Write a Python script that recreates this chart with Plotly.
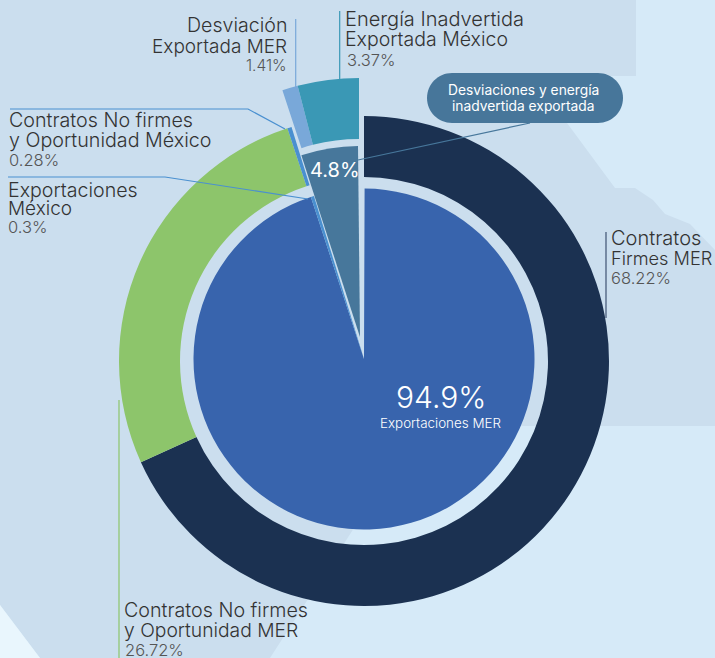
import plotly.graph_objects as go

W, H = 715, 658

# ---- data ----
outer_names = ["Contratos Firmes MER", "Contratos No firmes y Oportunidad MER",
               "Contratos No firmes y Oportunidad México", "Desviación Exportada MER",
               "Energía Inadvertida Exportada México"]
# Percentages as printed on the reference.
outer_values = [68.22, 26.72, 0.28, 1.41, 3.37]
# Arc sizes as measured on the reference for its detached group: the two detached
# slices are not drawn in the proportion their printed labels state (about 1.03 / 4.03
# rather than 1.41 / 3.37). The first three entries are invisible in that trace.
outer_arcs = [68.22, 26.44, 0.28, 1.03, 4.03]
outer_colors = ["#1b3151", "#8dc56b", "#4a90d0", "#79a8d9", "#3a98b5"]

inner_names = ["Exportaciones MER", "Exportaciones México", "Desviaciones y energía inadvertida exportada"]
inner_values = [94.9, 0.3, 4.8]
inner_colors = ["#3864ad", "#4a90d0", "#47779b"]

BG_LIGHT, BG_MAP, BG_PALE = "#d6eaf8", "#cbdeee", "#e9f6fd"
CLEAR = "rgba(0,0,0,0)"


def domain(cx, cy, r):
    return dict(x=[(cx - r) / W, (cx + r) / W], y=[1 - (cy + r) / H, 1 - (cy - r) / H])


def px(x, y):
    return x / W, 1 - y / H


def mask(colors, keep):
    return [c if i in keep else CLEAR for i, c in enumerate(colors)]


def pie(values, names, colors, dom, hole=0, rotation=0):
    return go.Pie(values=values, labels=names, sort=False, direction="clockwise", rotation=rotation,
                  hole=hole, domain=dom, textinfo="none", hoverinfo="label+value",
                  marker=dict(colors=colors, line=dict(width=0)), showlegend=False)


fig = go.Figure()
OUT_R, OUT_HOLE = 245, 184 / 245
fig.add_trace(pie(outer_values, outer_names, mask(outer_colors, {0, 1, 2}), domain(364, 361, OUT_R), OUT_HOLE))
fig.add_trace(pie(outer_arcs, outer_names, mask(outer_colors, {3, 4}), domain(359, 323, OUT_R), OUT_HOLE))
fig.add_trace(pie(inner_values, inner_names, mask(inner_colors, {0, 1}), domain(364, 359, 170.5), rotation=0.2))
fig.add_trace(pie(inner_values, inner_names, mask(inner_colors, {2}), domain(360, 337, 191), rotation=-0.6))


def poly(points, color):
    d = ""
    for i, (x, y) in enumerate(points):
        px_, py_ = px(x, y)
        d += ("M" if i == 0 else "L") + f"{px_:.5f},{py_:.5f} "
    return dict(type="path", path=d + "Z", xref="paper", yref="paper",
                fillcolor=color, line=dict(width=0), layer="below")


def line(points, color, width=1.2):
    d = ""
    for i, (x, y) in enumerate(points):
        px_, py_ = px(x, y)
        d += ("M" if i == 0 else "L") + f"{px_:.5f},{py_:.5f} "
    return dict(type="path", path=d, xref="paper", yref="paper",
                line=dict(color=color, width=width), layer="above")


def rounded(x0, y0, x1, y1, r, color):
    a, b = px(x0, y0), px(x1, y1)
    rx, ry = r / W, r / H
    kx, ky = rx * 0.448, ry * 0.448
    d = (f"M{a[0]+rx},{a[1]} L{b[0]-rx},{a[1]} C{b[0]-kx},{a[1]} {b[0]},{a[1]-ky} {b[0]},{a[1]-ry} "
         f"C{b[0]},{b[1]+ky} {b[0]-kx},{b[1]} {b[0]-rx},{b[1]} L{a[0]+rx},{b[1]} "
         f"C{a[0]+kx},{b[1]} {a[0]},{b[1]+ky} {a[0]},{a[1]-ry} C{a[0]},{a[1]-ky} {a[0]+kx},{a[1]} {a[0]+rx},{a[1]} Z")
    return dict(type="path", path=d, xref="paper", yref="paper",
                fillcolor=color, line=dict(width=0), layer="above")


shapes = [
    poly([(0, 0), (636, 0), (636, 76), (532, 76), (567, 123), (615, 188), (635, 188), (653, 200),
          (665, 214), (690, 224), (715, 250), (715, 426), (420, 426), (270, 658), (40, 658), (0, 605)], BG_MAP),
    poly([(0, 605), (40, 658), (0, 658)], BG_PALE),
    rounded(427, 73, 623, 123, 25, "#47769a"),
    line([(358, 160), (530, 123)], "#47779b"),
    line([(119, 400), (119, 658)], "#8dc56b"),
    line([(606, 232), (606, 318)], "#3f5273"),
    line([(339.7, 11), (339.7, 79)], "#3a98b5"),
    line([(295.7, 19), (295.7, 88)], "#79a8d9"),
    line([(10, 109), (248, 109), (285, 129)], "#4a90d0"),
    line([(8, 177), (165, 177), (308, 199)], "#4a90d0"),
]

TXT, PCT = "#333333", "#555555"
FONT = "Inter"
PC = 16.5


def text(x, y, s, size=19, color=TXT, anchor="left", weight=300):
    xp, yp = px(x, y)
    return dict(x=xp, y=yp, xref="paper", yref="paper", text=s, showarrow=False, xanchor=anchor, yanchor="middle",
                borderpad=0, borderwidth=0,
                font=dict(family=FONT, size=size, color=color, weight=weight))


annotations = [
    text(287, 25, "Desviación", 19.6, anchor="right"),
    text(287, 46, "Exportada MER", 19, anchor="right"),
    text(287, 65, f"{outer_values[3]}%", 15.5, PCT, "right"),
    text(345, 19, "Energía Inadvertida", 20),
    text(345, 39, "Exportada México", 19.5),
    text(347, 60, f"{outer_values[4]}%", PC, PCT),
    text(9, 120, "Contratos No firmes", 19.7),
    text(9, 140, "y Oportunidad México", 19.7),
    text(9, 160, f"{outer_values[2]}%", PC, PCT),
    text(8, 190, "Exportaciones", 19.6),
    text(8, 208, "México", 19),
    text(8, 227, f"{inner_values[1]}%", PC, PCT),
    text(611, 238, "Contratos", 20),
    text(611, 258, "Firmes MER", 18.2),
    text(611, 278, f"{outer_values[0]}%", PC, PCT),
    text(124, 610, "Contratos No firmes", 19.7),
    text(124, 630, "y Oportunidad MER", 19.3),
    text(125, 650, f"{outer_values[1]}%", PC, PCT),
    text(523, 90, "Desviaciones y energía", 13.8, "#ffffff", "center", 400),
    text(523, 106, "inadvertida exportada", 13.8, "#ffffff", "center", 400),
    text(335, 170, f"{inner_values[2]}%", 20, "#ffffff", "center", 400),
    text(441, 397, f"{inner_values[0]}%", 30, "#ffffff", "center"),
    text(440, 423, inner_names[0], 13.4, "#ffffff", "center"),
]

fig.update_layout(width=W, height=H, margin=dict(l=0, r=0, t=0, b=0), paper_bgcolor=BG_LIGHT,
                  plot_bgcolor=BG_LIGHT, shapes=shapes, annotations=annotations,
                  font=dict(family=FONT), showlegend=False)
fig.write_html("out.html", config=dict(displayModeBar=False),
               post_script="document.body.style.margin='0';document.body.style.overflow='hidden';")
